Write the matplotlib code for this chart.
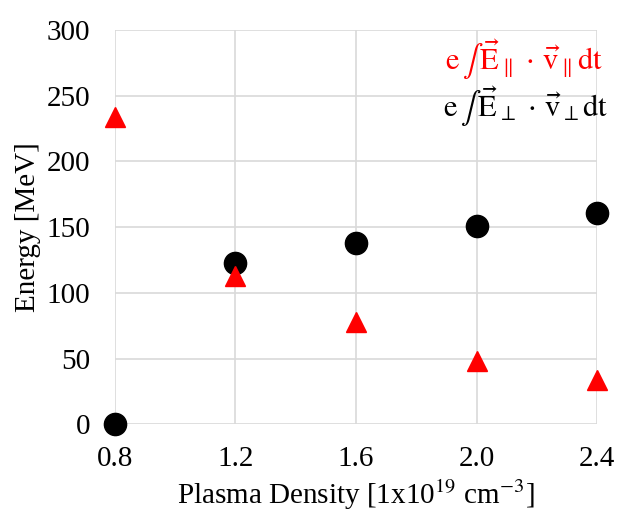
import matplotlib
matplotlib.use('Agg')
import matplotlib.pyplot as plt

density = [0.8, 1.2, 1.6, 2.0, 2.4]
e_par = [234, 113, 78, 48, 34]
e_perp = [0, 123, 138, 151, 161]

plt.rcParams['font.family'] = 'Liberation Serif'
plt.rcParams['mathtext.fontset'] = 'stix'

fig = plt.figure(figsize=(6.42, 5.18), dpi=100)
ax = fig.add_axes([0.179, 0.181, 0.751, 0.761])

ax.plot(density, e_perp, 'o', color='black', markersize=16, clip_on=False, zorder=3)
ax.plot(density, e_par, '^', color='red', markersize=15, clip_on=False, zorder=3)

ax.set_xlim(0.8, 2.4)
ax.set_ylim(0, 300)
ax.set_xticks(density)
ax.set_xticklabels(['0.8', '1.2', '1.6', '2.0', '2.4'])
ax.set_yticks(range(0, 301, 50))
ax.grid(True, color='#d9d9d9', linewidth=1.2)
ax.set_axisbelow(True)
for s in ax.spines.values():
    s.set_visible(False)
ax.tick_params(length=0, labelsize=21, pad=18)
ax.tick_params(axis='x', pad=16)

ax.set_xlabel(r'Plasma Density [1x10$^{19}$ cm$^{\mathrm{-3}}$]', fontsize=21, labelpad=4)
ax.set_ylabel('Energy [MeV]', fontsize=21, labelpad=4)

ax.text(0.685, 0.925, r'$\mathrm{e}\,\int\,\vec{\mathrm{E}}_\parallel\,\cdot\,\vec{\mathrm{v}}_\parallel\mathrm{dt}$',
        transform=ax.transAxes, ha='left', va='center', fontsize=22, color='red')
ax.text(0.68, 0.805, r'$\mathrm{e}\,\int\,\vec{\mathrm{E}}_\perp\,\cdot\,\vec{\mathrm{v}}_\perp\mathrm{dt}$',
        transform=ax.transAxes, ha='left', va='center', fontsize=22, color='black')

fig.savefig('out.png', dpi=100, facecolor='white')
